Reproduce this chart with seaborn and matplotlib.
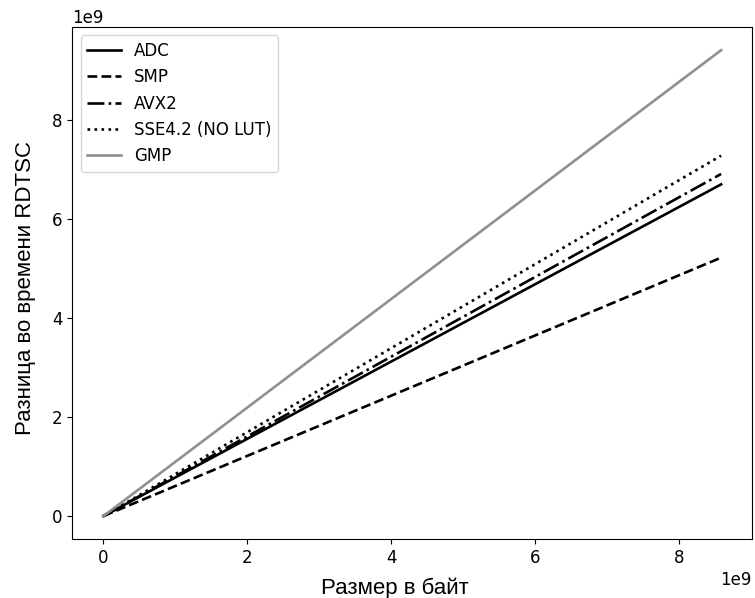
import matplotlib
matplotlib.use("Agg")
import matplotlib.pyplot as plt
import seaborn as sns
import pandas as pd

# размеры (байт) и разница RDTSC на концах
sizes = [0, 8.59e9]
adc = [0, 6.70e9]
smp = [0, 5.22e9]
avx2 = [0, 6.91e9]
sse42 = [0, 7.28e9]
gmp = [0, 9.41e9]

names = ["ADC", "SMP", "AVX2", "SSE4.2 (NO LUT)", "GMP"]
series = [adc, smp, avx2, sse42, gmp]
styles = ["-", "--", "-.", ":", "-"]
colors = ["black", "black", "black", "black", "#909090"]

plt.rcParams["font.family"] = ["DejaVu Sans"]
plt.rcParams["font.size"] = 12

fig, ax = plt.subplots(figsize=(7.55, 5.98), dpi=100)

for name, vals, ls, c in zip(names, series, styles, colors):
    df = pd.DataFrame({"x": sizes, "y": vals})
    sns.lineplot(data=df, x="x", y="y", ax=ax, label=name, color=c,
                 linestyle=ls, linewidth=1.9)

ax.set_xlabel("Размер в байт", fontsize=16, family="Liberation Sans")
ax.set_ylabel("Разница во времени RDTSC", fontsize=16, family="Liberation Sans")
ax.xaxis.set_label_coords(0.474, -0.075)
ax.yaxis.set_label_coords(-0.053, 0.49)
ax.legend(loc="upper left", fontsize=12)

fig.subplots_adjust(left=0.096, right=0.996, top=0.955, bottom=0.098)
fig.savefig("out.png", dpi=100)
